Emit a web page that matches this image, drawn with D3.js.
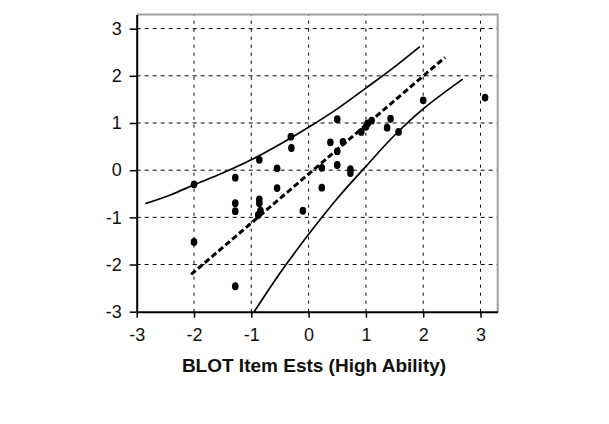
<!DOCTYPE html>
<html>
<head>
<meta charset="utf-8">
<script src="https://cdn.jsdelivr.net/npm/d3@7"></script>
<style>
  body { margin: 0; background: #fff; }
  text { font-family: "Liberation Sans", Arial, sans-serif; }
</style>
</head>
<body>
<div id="chart"></div>
<script>
// item estimates: x = high ability, y = other group
const itemX = [-2.0, -2.0, -1.28, -1.28, -1.28, -1.28, -0.86, -0.86, -0.86, -0.84, -0.88,
  -0.55, -0.55, -0.31, -0.30, -0.10, 0.23, 0.23, 0.38, 0.5, 0.5, 0.5, 0.6, 0.73, 0.73,
  0.92, 1.0, 1.03, 1.1, 1.43, 1.37, 1.57, 2.0, 3.08];
const itemY = [-0.30, -1.52, -0.16, -0.70, -0.87, -2.46, 0.22, -0.62, -0.70, -0.86, -0.95,
  0.04, -0.38, 0.71, 0.47, -0.86, 0.05, -0.37, 0.59, 1.08, 0.40, 0.11, 0.60, 0.02, -0.06,
  0.81, 0.92, 0.99, 1.05, 1.09, 0.90, 0.81, 1.48, 1.54];

// trend line and 95% control bands
const trendX = [-2.05, 2.38];
const trendY = [-2.21, 2.39];
const upperX = [-2.85, -2.4, -2.0, -1.5, -1.0, -0.5, 0.0, 0.5, 1.0, 1.5, 1.94];
const upperY = [-0.71, -0.52, -0.31, -0.06, 0.22, 0.55, 0.91, 1.30, 1.74, 2.19, 2.62];
const lowerX = [-0.95, -0.6, -0.38, 0.0, 0.5, 1.0, 1.5, 2.0, 2.69];
const lowerY = [-3.0, -2.36, -1.98, -1.36, -0.60, 0.08, 0.74, 1.30, 1.93];

const ticks = [-3, -2, -1, 0, 1, 2, 3];
const xTitle = "BLOT Item Ests (High Ability)";

const width = 609, height = 424;
const svg = d3.select("#chart").append("svg")
    .attr("width", width)
    .attr("height", height);

const x = d3.scaleLinear().domain([-3, 3.3]).range([136.7, 497.7]);
const y = d3.scaleLinear().domain([-3, 3.3]).range([311.7, 14.5]);

// grid
svg.append("g").selectAll("line")
    .data(ticks.slice(1))
  .enter().append("line")
    .attr("x1", x(-3)).attr("x2", x(3.3))
    .attr("y1", d => y(d)).attr("y2", d => y(d))
    .style("stroke", "#000")
    .style("stroke-width", 1)
    .style("stroke-dasharray", "4,4");
svg.append("g").selectAll("line")
    .data(ticks.slice(1))
  .enter().append("line")
    .attr("y1", y(-3)).attr("y2", y(3.3))
    .attr("x1", d => x(d)).attr("x2", d => x(d))
    .style("stroke", "#000")
    .style("stroke-width", 1)
    .style("stroke-dasharray", "3,5");

// top / right frame
svg.append("path")
    .attr("d", "M" + x(-3) + "," + y(3.3) + "H" + x(3.3) + "V" + y(-3))
    .style("fill", "none")
    .style("stroke", "#a0a0a0")
    .style("stroke-width", 2);

// axes
const yAxis = svg.append("g")
    .attr("transform", "translate(" + x(-3) + ",0)")
    .call(d3.axisLeft(y).tickValues(ticks).tickSize(7).tickSizeOuter(0).tickPadding(8));
const xAxis = svg.append("g")
    .attr("transform", "translate(0," + y(-3) + ")")
    .call(d3.axisBottom(x).tickValues(ticks).tickSize(6).tickSizeOuter(0).tickPadding(11));

[xAxis, yAxis].forEach(a => {
  a.select(".domain").style("stroke", "#000").style("stroke-width", 2);
  a.selectAll(".tick line").style("stroke", "#000").style("stroke-width", 1.5);
  a.selectAll(".tick text")
      .style("font-size", "18px")
      .style("fill", "#111")
      .text(d => d < 0 ? "-" + Math.abs(d) : d);
});

// curves
const line = d3.line()
    .x(d => x(d[0]))
    .y(d => y(d[1]))
    .curve(d3.curveCatmullRom.alpha(0.5));

svg.append("path")
    .datum(upperX.map((v, i) => [v, upperY[i]]))
    .attr("d", line)
    .style("fill", "none")
    .style("stroke", "#000")
    .style("stroke-width", 1.7);
svg.append("path")
    .datum(lowerX.map((v, i) => [v, lowerY[i]]))
    .attr("d", line)
    .style("fill", "none")
    .style("stroke", "#000")
    .style("stroke-width", 1.7);
svg.append("path")
    .datum(trendX.map((v, i) => [v, trendY[i]]))
    .attr("d", d3.line().x(d => x(d[0])).y(d => y(d[1])))
    .style("fill", "none")
    .style("stroke", "#000")
    .style("stroke-width", 3)
    .style("stroke-dasharray", "6,3");

// points
svg.append("g").selectAll("ellipse")
    .data(itemX.map((v, i) => [v, itemY[i]]))
  .enter().append("ellipse")
    .attr("cx", d => x(d[0]))
    .attr("cy", d => y(d[1]))
    .attr("rx", 3.3)
    .attr("ry", 3.9)
    .style("fill", "#000");

svg.append("text")
    .attr("x", 314)
    .attr("y", 372)
    .attr("text-anchor", "middle")
    .style("font-size", "19px")
    .style("font-weight", "bold")
    .style("fill", "#111")
    .text(xTitle);
</script>
</body>
</html>
